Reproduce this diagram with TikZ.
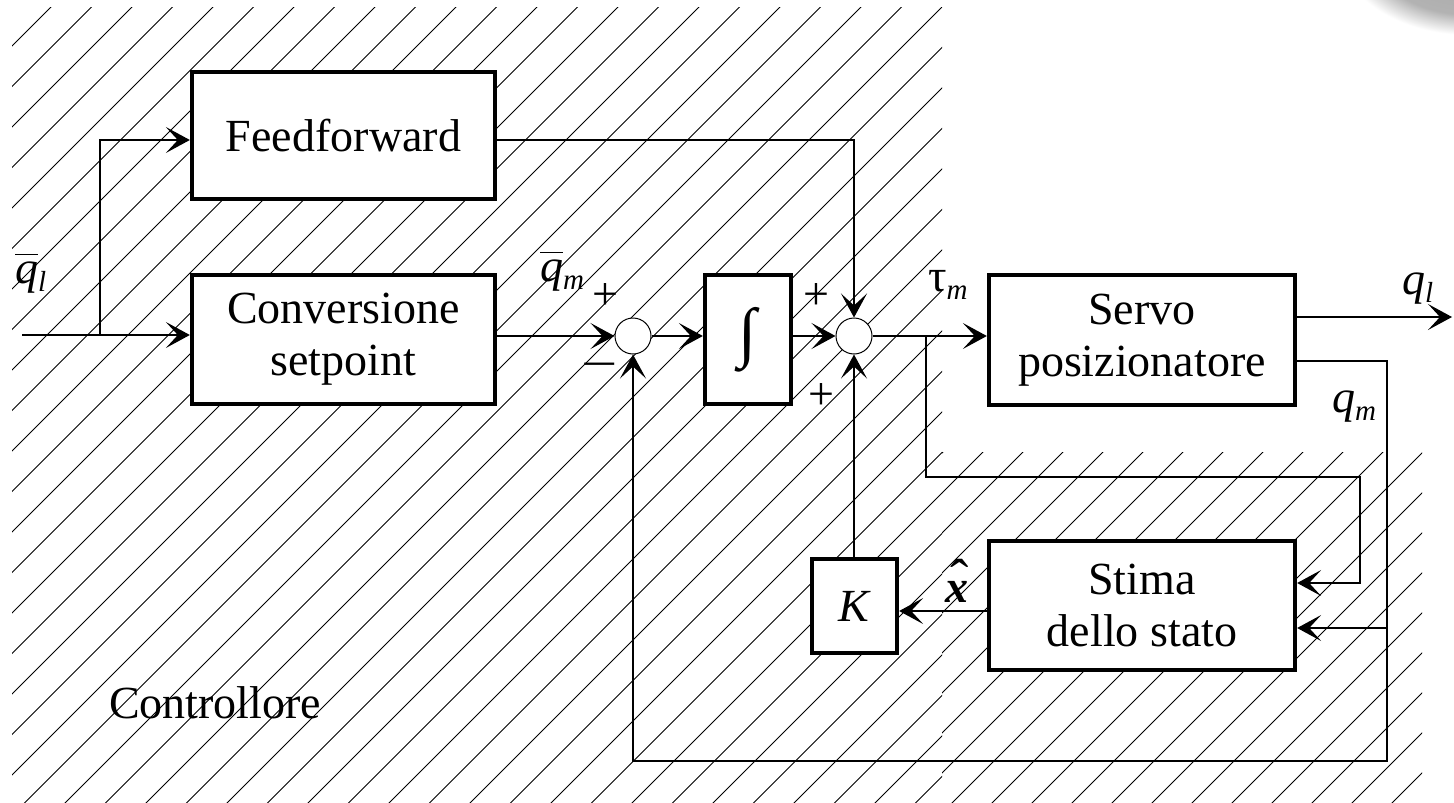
\documentclass[tikz,border=0pt]{standalone}
\usepackage{fontspec}
\setmainfont{Liberation Serif}
\usetikzlibrary{arrows.meta}
\newcommand{\sbs}[1]{\raisebox{-8pt}{\fontsize{29}{29}\selectfont\textit{#1}}}
\newcommand{\qbar}{\rlap{\raisebox{28pt}{\rule{23pt}{1.3pt}}}\textit{q}}
\newcommand{\xhat}{\rlap{\hspace{5pt}\raisebox{5pt}{\fontsize{55}{55}\selectfont ˆ}}\textbf{\textit{x}}}
\pgfdeclareradialshading{blob}{\pgfpoint{0bp}{0bp}}{color(0bp)=(black!36); color(19bp)=(black!30); color(25bp)=(white); color(50bp)=(white)}
\begin{document}
\begin{tikzpicture}[x=1pt,y=-1pt,
  blk/.style={draw, line width=4.3pt, fill=white, inner sep=0pt, align=center,
    font=\fontsize{46}{52}\selectfont},
  sumj/.style={circle, draw, line width=1pt, fill=white, minimum size=36pt, inner sep=0pt},
  wire/.style={line width=1.2pt},
  arr/.style={wire, -{Stealth[length=24pt,width=26pt,inset=12pt]}},
  lbl/.style={font=\fontsize{46}{52}\selectfont, inner sep=0pt},
  hatch/.style={line width=0.9pt}
  ]
\useasboundingbox (0,0) rectangle (1454,803);
\fill[white] (0,0) rectangle (1454,803);
% shadow blob top right
\shade[shading=blob] (1470,-50) ellipse [x radius=130pt, y radius=85pt];
% hatching
\begin{scope}
  \clip (12,7) rectangle (942,803);
  \foreach \k in {0,...,44} {
    \draw[hatch] ({58+40.5*\k},0) -- ({58+40.5*\k-1000},1000);
  }
\end{scope}
\begin{scope}
  \clip (942,452) rectangle (1422,803);
  \foreach \k in {0,...,21} {
    \draw[hatch] ({1395+40*\k},0) -- ({1395+40*\k-1000},1000);
  }
\end{scope}

% blocks
\node[blk, minimum width=303pt, minimum height=127pt] (ff) at (343.5,135.5) {Feedforward};
\node[blk, minimum width=303pt, minimum height=129pt] (conv) at (343.5,339.5) {Conversione\\setpoint};
\node[blk, minimum width=86pt, minimum height=129pt] (integ) at (748,339.5) {\raisebox{-4pt}{\fontsize{66}{66}\selectfont ∫}};
\node[blk, minimum width=306pt, minimum height=130pt] (servo) at (1142,340) {Servo\\posizionatore};
\node[blk, minimum width=306pt, minimum height=129pt] (stima) at (1142,605.5) {Stima\\dello stato};
\node[blk, minimum width=85pt, minimum height=94pt] (K) at (854.5,606) {\textit{K}};
\node[sumj] (s1) at (633,336) {};
\node[sumj] (s2) at (854,336) {};

% coordinates
\coordinate (in) at (22,335);
\coordinate (br1) at (100,335);
\coordinate (ffy) at (0,140);
\coordinate (out) at (1452,317);
\coordinate (qmR) at (1387,361);
\coordinate (qmB) at (1387,761);
\coordinate (qmS) at (1387,628);
\coordinate (tb) at (926,336);
\coordinate (tb2) at (1360,477);
\coordinate (ts) at (1360,583);
\coordinate (xy) at (0,611);

% wires
\draw[arr] (in) -- (in -| conv.west);
\draw[arr] (br1) |- (ff.west |- ffy);
\draw[arr] (conv.east |- s1) -- (s1);
\draw[arr] (s1) -- (s1 -| integ.west);
\draw[arr] (s2 -| integ.east) -- (s2);
\draw[arr] (ff.east |- ffy) -| (s2);
\draw[arr] (s2) -- (s2 -| servo.west);
\draw[arr] (servo.east |- out) -- (out);
\draw[arr] (servo.east |- qmR) -| (qmB) -| (s1);
\draw[arr] (qmS) -- (qmS -| stima.east);
\draw[arr] (tb) |- (tb2) -- (ts) -- (ts -| stima.east);
\draw[arr] (stima.west |- xy) -- (K.east |- xy);
\draw[arr] (K.north -| s2) -- (s2);

% labels
\node[lbl, anchor=base west] (lql) at (15,283) {\qbar\sbs{l}};
\node[lbl, anchor=base west] (lqm) at (540,281) {\qbar\sbs{m}};
\node[lbl, anchor=base west] (ltau) at (928,291) {τ\sbs{m}};
\node[lbl, anchor=base west] (lql2) at (1402,294) {\textit{q}\sbs{l}};
\node[lbl, anchor=base west] (lqm2) at (1332,412) {\textit{q}\sbs{m}};
\node[lbl, anchor=base west] (lx) at (945,602) {\xhat};
\node[lbl] (p1) at (605,297) {+};
\node[lbl] (m1) at (600,371) {\scalebox{1.4}[1]{−}};
\node[lbl] (p2) at (816,297) {+};
\node[lbl] (p3) at (821,397) {+};
\node[lbl, anchor=base west] (ctrl) at (109,718) {Controllore};
\end{tikzpicture}
\end{document}
